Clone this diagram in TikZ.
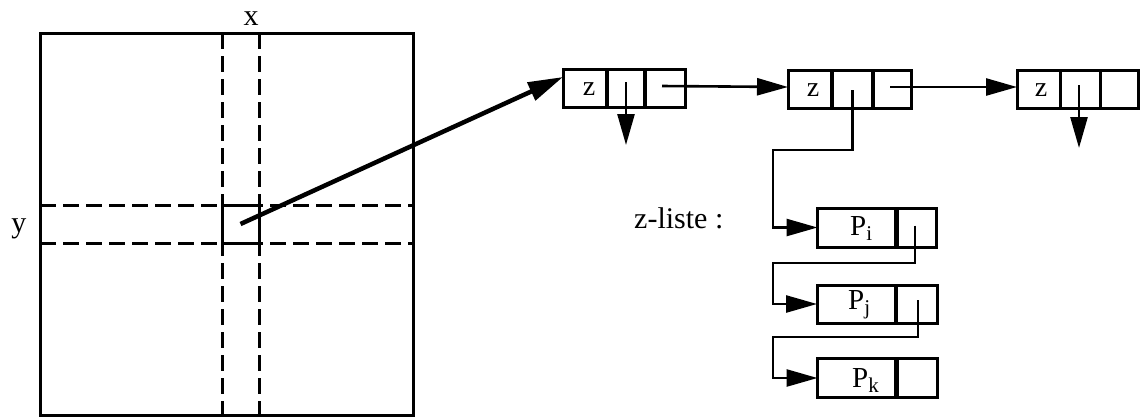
\documentclass[tikz,border=0pt]{standalone}
\usepackage{fontspec}
\setmainfont{Liberation Serif}
\usetikzlibrary{arrows.meta}
\newcommand\mysub[1]{\raisebox{-5pt}{\fontsize{21}{21}\selectfont #1}}
\begin{document}
\begin{tikzpicture}[x=1pt,y=-1pt,
 cellbox/.style={draw, line width=3pt, minimum height=38pt, inner sep=0pt, outer sep=0pt},
 divider/.style={line width=4pt},
 ptr/.style={line width=2.6pt, -{Triangle[length=31pt,width=17pt]}},
 bigptr/.style={line width=4.5pt, -{Triangle[length=35pt,width=19pt]}},
 lbl/.style={font=\fontsize{30}{32}\selectfont, inner sep=0pt},
 zlbl/.style={font=\fontsize{28}{30}\selectfont, inner sep=0pt, anchor=base},
 plbl/.style={font=\fontsize{29}{31}\selectfont, inner sep=0pt, anchor=base west},
 dashln/.style={line width=3pt, dash pattern=on 16pt off 7pt}]
\useasboundingbox (0,0) rectangle (1148,416);

% big square with dashed strips
\node (sq) [draw, line width=3pt, minimum width=373pt, minimum height=382pt, inner sep=0pt, outer sep=0pt] at (226.5,224) {};
\coordinate (vt1) at (222,33);  \coordinate (vb1) at (222,416);
\coordinate (vt2) at (259,33);  \coordinate (vb2) at (259,416);
\coordinate (hl1) at (40,205);  \coordinate (hr1) at (413,205);
\coordinate (hl2) at (40,243);  \coordinate (hr2) at (413,243);
\draw[dashln] (vt1) -- (vb1);
\draw[dashln] (vt2) -- (vb2);
\draw[dashln] (hl1) -- (hr1);
\draw[dashln] (hl2) -- (hr2);
\node (cell) [draw, line width=3pt, minimum width=37pt, minimum height=38pt, inner sep=0pt, outer sep=0pt] at (240.5,224) {};
\node (xl) [lbl, anchor=base] at (251,25) {x};
\node (yl) [lbl, anchor=base] at (19,232) {y};

% top list
\node (a1) [cellbox, minimum width=44pt] at (585,88) {};
\node (a2) [cellbox, minimum width=38pt] at (626,88) {};
\node (a3) [cellbox, minimum width=40pt] at (665,88) {};
\node (b1) [cellbox, minimum width=44pt] at (810,89) {};
\node (b2) [cellbox, minimum width=41pt] at (852.5,89) {};
\node (b3) [cellbox, minimum width=38pt] at (892,89) {};
\node (c1) [cellbox, minimum width=43pt] at (1038.5,89) {};
\node (c2) [cellbox, minimum width=40pt] at (1080,89) {};
\node (c3) [cellbox, minimum width=38pt] at (1119,89) {};
\draw[divider] (a1.north east) -- (a1.south east);
\draw[divider] (a2.north east) -- (a2.south east);
\draw[divider] (b1.north east) -- (b1.south east);
\draw[divider] (b2.north east) -- (b2.south east);
\node (za) [zlbl] at (589,95) {z};
\node (zb) [zlbl] at (813,96) {z};
\node (zc) [zlbl] at (1041,96) {z};

% z-liste
\node (zl) [lbl, anchor=base west] at (634,228) {z-liste :};
\node (pi1) [cellbox, minimum width=79pt, minimum height=39pt] at (857,227.5) {};
\node (pi2) [cellbox, minimum width=40pt, minimum height=39pt] at (916.5,227.5) {};
\node (pj1) [cellbox, minimum width=79pt] at (856.5,304) {};
\node (pj2) [cellbox, minimum width=41pt] at (916.5,304) {};
\node (pk1) [cellbox, minimum width=79pt, minimum height=39pt] at (857,378) {};
\node (pk2) [cellbox, minimum width=41pt, minimum height=39pt] at (917,378) {};
\draw[divider, line width=4.5pt] (pi1.north east) -- (pi1.south east);
\draw[divider, line width=4.5pt] (pj1.north east) -- (pj1.south east);
\draw[divider, line width=4.5pt] (pk1.north east) -- (pk1.south east);
\node (tpi) [plbl] at (850,235) {P\mysub{i}};
\node (tpj) [plbl] at (848,309) {P\mysub{j}};
\node (tpk) [plbl] at (852,387) {P\mysub{k}};

% connectors
\coordinate (ad) at (626,145);
\coordinate (cd) at (1079,148);
\coordinate (k1) at (773,150);
\coordinate (k2) at (773,263);
\coordinate (k3) at (773,337);
\draw[bigptr] (cell.center) -- ([yshift=11pt]a1.west);
\draw[ptr] ([yshift=6pt]a2.center) -- (ad);
\draw[ptr] ([xshift=-3pt,yshift=2pt]a3.center) -- ([yshift=2pt]b1.west);
\draw[ptr] ([xshift=-2pt,yshift=2pt]b3.center) -- ([yshift=2pt]c1.west);
\draw[ptr] ([xshift=-1pt,yshift=4pt]c2.center) -- (cd);
\draw[ptr] ([yshift=-1pt]b2.center) -- (b2.center |- k1) -- (k1) -- (k1 |- pi1.west) -- (pi1.west);
\draw[ptr] ([xshift=-1.5pt,yshift=2pt]pi2.center) -- ([xshift=-1.5pt]pi2.center |- k2) -- (k2) -- (k2 |- pj1.west) -- (pj1.west);
\draw[ptr] ([xshift=1.5pt,yshift=4pt]pj2.center) -- ([xshift=1.5pt]pj2.center |- k3) -- (k3) -- (k3 |- pk1.west) -- (pk1.west);
\end{tikzpicture}
\end{document}
